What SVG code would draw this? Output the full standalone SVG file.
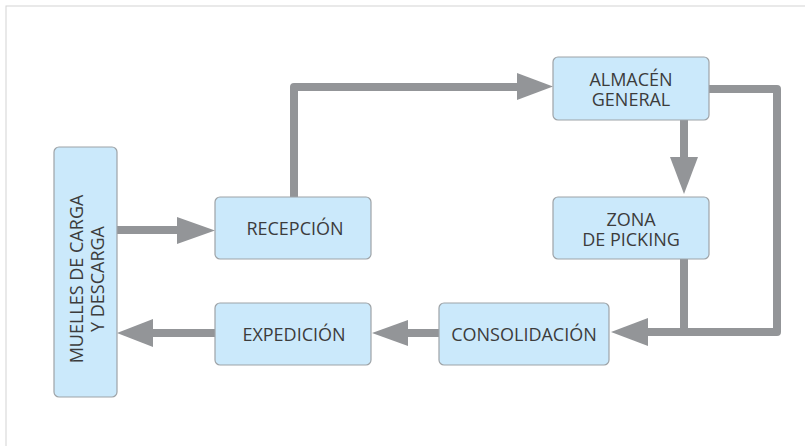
<svg xmlns="http://www.w3.org/2000/svg" width="805" height="446" viewBox="0 0 805 446">
<style>
.node{fill:#cbe9fb;stroke:#9ea3a7;stroke-width:1.2}
.lbl{font-family:"Open Sans","Liberation Sans",sans-serif;font-size:18px;fill:#3c3c3c;text-anchor:middle}
.con{fill:none;stroke:#939598;stroke-width:8;stroke-linejoin:round}
.head{fill:#939598}
</style>
<rect x="6" y="6" width="820" height="460" fill="#fff" stroke="#d4d4d4" stroke-width="1"/>
<g id="connectors">
<path class="con" d="M117,230 H180" />
<path class="head" d="M177,217 L215,230.5 L177,244 Z"/>
<path class="con" d="M294,197 V87 H520"/>
<path class="head" d="M517,73 L553,86.5 L517,100 Z"/>
<path class="con" d="M684,120 V160"/>
<path class="head" d="M670,157 L684,194 L698,157 Z"/>
<path class="con" d="M709,89 H777 V332 H645"/>
<path class="con" d="M684,259 V332"/>
<path class="head" d="M648,318 L611,332 L648,346 Z"/>
<path class="con" d="M439,333 H405"/>
<path class="head" d="M408,320 L372,333 L408,346 Z"/>
<path class="con" d="M215,333 H150"/>
<path class="head" d="M153,319 L117,333 L153,347 Z"/>
</g>
<g id="muelles">
<rect class="node" x="54" y="147" width="63" height="250" rx="5"/>
<text class="lbl" transform="translate(85.5,279) rotate(-90)"><tspan x="0" y="-2.5">MUELLES DE CARGA</tspan><tspan x="0" y="18.5">Y DESCARGA</tspan></text>
</g>
<g id="recepcion">
<rect class="node" x="215" y="197" width="156" height="62" rx="5"/>
<text class="lbl" x="295" y="235">RECEPCIÓN</text>
</g>
<g id="almacen">
<rect class="node" x="553" y="57" width="156" height="63" rx="5"/>
<text class="lbl"><tspan x="631" y="86">ALMACÉN</tspan><tspan x="631" y="106">GENERAL</tspan></text>
</g>
<g id="zona">
<rect class="node" x="553" y="197" width="156" height="62" rx="5"/>
<text class="lbl"><tspan x="631" y="226">ZONA</tspan><tspan x="631" y="246">DE PICKING</tspan></text>
</g>
<g id="consolidacion">
<rect class="node" x="439" y="303" width="170" height="62" rx="5"/>
<text class="lbl" x="524" y="341">CONSOLIDACIÓN</text>
</g>
<g id="expedicion">
<rect class="node" x="215" y="303" width="156" height="62" rx="5"/>
<text class="lbl" x="294" y="341">EXPEDICIÓN</text>
</g>
</svg>
